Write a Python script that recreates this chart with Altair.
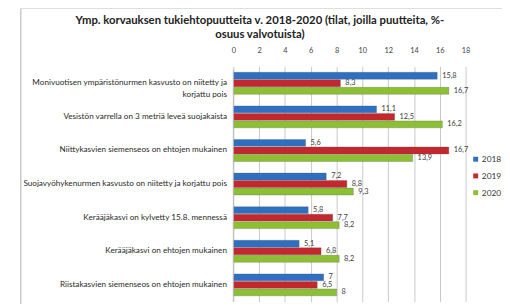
import altair as alt
import pandas as pd

categories = [
    "Monivuotisen ympäristönurmen kasvusto on niitetty ja|korjattu pois",
    "Vesistön varrella on 3 metriä leveä suojakaista",
    "Niittykasvien siemenseos on ehtojen mukainen",
    "Suojavyöhykenurmen kasvusto on niitetty ja korjattu pois",
    "Kerääjäkasvi on kylvetty 15.8. mennessä",
    "Kerääjäkasvi on ehtojen mukainen",
    "Riistakasvien siemenseos on ehtojen mukainen",
]
years = ["2018", "2019", "2020"]
v2018 = [15.8, 11.1, 5.6, 7.2, 5.8, 5.1, 7.0]
v2019 = [8.3, 12.5, 16.7, 8.8, 7.7, 6.8, 6.5]
v2020 = [16.7, 16.2, 13.9, 9.3, 8.2, 8.2, 8.0]
colors = ["#2f6fc2", "#c4282e", "#8cc032"]
x_ticks = [0, 2, 4, 6, 8, 10, 12, 14, 16, 18]

rows = []
for yr, vals in zip(years, [v2018, v2019, v2020]):
    for c, v in zip(categories, vals):
        lab = ("%g" % v).replace(".", ",")
        rows.append({"cat": c, "year": yr, "value": v, "label": lab})
df = pd.DataFrame(rows)

W, H = 236, 239
FONT = "Lato"

y_enc = alt.Y("cat:N", sort=categories, title=None,
              scale=alt.Scale(paddingInner=0.34, paddingOuter=0.17),
              axis=alt.Axis(labelExpr="split(datum.label, '|')", labelFontSize=8.3,
                            labelColor="#2a2a2a", labelFont=FONT, ticks=False,
                            domain=False, labelPadding=7, labelLimit=300, labelLineHeight=12))
x_enc = alt.X("value:Q", title=None,
              scale=alt.Scale(domain=[0, 18], nice=False),
              axis=alt.Axis(orient="top", values=x_ticks, labelFontSize=7.5, labelColor="#444444",
                            labelFont=FONT, ticks=False, domain=False, labelPadding=12,
                            labelOverlap=False, labelFlush=False,
                            gridColor="#c8c8c8", gridWidth=1))
yoff = alt.YOffset("year:N", sort=years, scale=alt.Scale(paddingInner=0.05))

base = alt.Chart(df)

bars = base.mark_bar(size=7, stroke="#555555", strokeWidth=0.3).encode(
    y=y_enc,
    yOffset=yoff,
    x=x_enc,
    color=alt.Color("year:N", sort=years, scale=alt.Scale(domain=years, range=colors),
                    legend=alt.Legend(title=None, orient="none", legendX=242, legendY=90,
                                      symbolType="square", symbolSize=25, labelFontSize=8.5,
                                      labelFont=FONT, labelColor="#333333", labelOffset=2,
                                      labelLimit=60, rowPadding=8, symbolStrokeWidth=0)),
)

labels = base.mark_text(align="left", dx=5, fontSize=7.5, font=FONT, color="#404040").encode(
    y=y_enc,
    yOffset=yoff,
    x=x_enc,
    text="label:N",
)

frame_left = alt.Chart(pd.DataFrame({"a": [0]})).mark_rule(color="#c8c8c8", strokeWidth=1.5).encode(
    x=alt.value(-216), y=alt.value(-59), y2=alt.value(260))
frame_top = alt.Chart(pd.DataFrame({"a": [0]})).mark_rule(color="#d8d8d8", strokeWidth=1).encode(
    x=alt.value(-216), x2=alt.value(300), y=alt.value(-59))
axis_left = alt.Chart(pd.DataFrame({"a": [0]})).mark_rule(color="#bbbbbb", strokeWidth=1).encode(
    x=alt.value(0), y=alt.value(3), y2=alt.value(H))

chart = alt.layer(bars, labels, axis_left, frame_left, frame_top).properties(
    width=W, height=H,
    autosize=alt.AutoSizeParams(type="none"),
    padding={"left": 229, "top": 57, "right": 37, "bottom": 0},
    title=alt.TitleParams(
        text=["Ymp. korvauksen tukiehtopuutteita v. 2018-2020 (tilat, joilla puutteita, %-",
              "osuus valvotuista)"],
        anchor="middle", dx=-91, dy=33, fontSize=11.5, font=FONT, fontWeight="bold",
        color="#222222", lineHeight=14, offset=0),
).configure_view(stroke=None)

chart.save("out.html", embed_options={"renderer": "svg", "actions": False})
